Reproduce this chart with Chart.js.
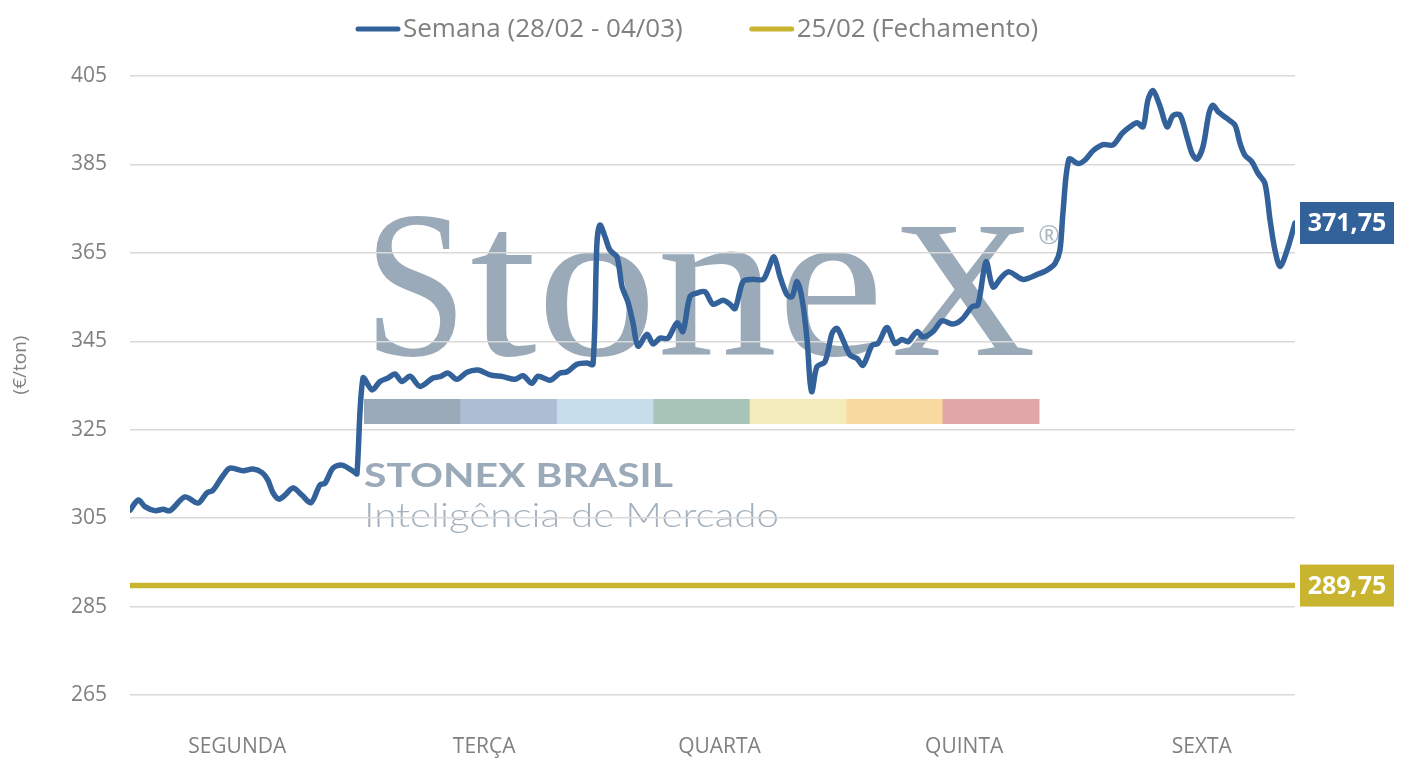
<!DOCTYPE html>
<html>
<head>
<meta charset="utf-8">
<title>Semana (28/02 - 04/03)</title>
<script src="https://cdn.jsdelivr.net/npm/chart.js@4.4.1/dist/chart.umd.min.js"></script>
<style>
  html, body { margin: 0; padding: 0; background: #ffffff; }
  #wrap { width: 1418px; height: 774px; position: relative; }
</style>
</head>
<body>
<div id="wrap"><canvas id="priceChart"></canvas></div>
<script>
// dados: tempo em dias (0 = abertura de segunda, 5 = fechamento de sexta)
const times = [0, 0.036, 0.064, 0.107, 0.142, 0.172, 0.236, 0.292, 0.330, 0.356,
  0.395, 0.429, 0.485, 0.528, 0.567, 0.592, 0.614, 0.639, 0.665, 0.700,
  0.738, 0.777, 0.815, 0.837, 0.871, 0.910, 0.966, 0.974, 1.000, 1.039,
  1.073, 1.107, 1.137, 1.167, 1.202, 1.245, 1.300, 1.330, 1.365, 1.403,
  1.446, 1.494, 1.545, 1.601, 1.652, 1.687, 1.725, 1.751, 1.803, 1.845,
  1.876, 1.918, 1.961, 1.987, 2.004, 2.017, 2.039, 2.060, 2.090, 2.112,
  2.137, 2.159, 2.180, 2.219, 2.245, 2.275, 2.309, 2.348, 2.373, 2.403,
  2.433, 2.468, 2.502, 2.545, 2.575, 2.597, 2.631, 2.670, 2.717, 2.738,
  2.764, 2.790, 2.820, 2.841, 2.863, 2.884, 2.906, 2.918, 2.927, 2.948,
  2.983, 3.013, 3.034, 3.060, 3.090, 3.120, 3.146, 3.185, 3.210, 3.249,
  3.283, 3.313, 3.339, 3.378, 3.403, 3.446, 3.485, 3.532, 3.571, 3.614,
  3.639, 3.674, 3.704, 3.742, 3.773, 3.833, 3.897, 3.936, 3.970, 3.991,
  4.004, 4.030, 4.069, 4.099, 4.133, 4.176, 4.219, 4.258, 4.292, 4.322,
  4.348, 4.369, 4.391, 4.421, 4.451, 4.476, 4.506, 4.536, 4.558, 4.579,
  4.605, 4.631, 4.648, 4.670, 4.708, 4.742, 4.764, 4.785, 4.815, 4.841,
  4.871, 4.893, 4.914, 4.936, 4.966, 5.000];

const prices = [306.8, 309.1, 307.6, 306.7, 307.0, 306.7, 309.8, 308.4, 310.7, 311.3,
  314.3, 316.3, 315.7, 316.1, 315.3, 313.6, 310.7, 309.3, 310.2, 311.8,
  310.2, 308.5, 312.5, 312.9, 316.3, 317.0, 315.3, 315.0, 336.7, 334.0,
  335.9, 336.7, 337.6, 335.9, 337.1, 334.8, 336.7, 337.0, 337.8, 336.4,
  338.0, 338.5, 337.4, 337.0, 336.4, 337.2, 335.5, 337.1, 336.2, 337.8,
  338.1, 339.8, 340.1, 339.8, 367.2, 371.3, 368.6, 365.6, 364.1, 357.3,
  353.9, 349.1, 343.9, 346.6, 344.4, 345.7, 345.7, 349.2, 347.2, 355.1,
  355.9, 356.2, 353.4, 354.3, 353.4, 352.4, 358.5, 359.0, 359.0, 361.1,
  364.1, 359.6, 355.5, 355.1, 358.5, 354.7, 345.3, 336.2, 333.6, 339.2,
  340.4, 346.8, 347.9, 345.3, 341.9, 341.1, 339.6, 344.1, 344.5, 348.1,
  344.5, 345.4, 344.9, 347.2, 346.0, 347.2, 349.6, 348.9, 350.0, 352.8,
  353.2, 363.0, 357.3, 359.6, 360.7, 359.0, 360.2, 361.1, 362.6, 365.6,
  374.0, 386.2, 385.2, 386.0, 388.1, 389.5, 389.4, 392.0, 393.5, 394.4,
  393.5, 399.6, 401.7, 398.1, 393.5, 396.0, 396.2, 391.3, 387.5, 386.2,
  389.0, 396.6, 398.4, 396.9, 395.4, 393.9, 389.8, 387.1, 385.6, 383.0,
  380.7, 372.4, 365.6, 361.9, 365.6, 371.75];

const closeRef = 289.75; // 25/02 (Fechamento)
const weekStart = 0;
const weekEnd = 5;

const dayNames = ["SEGUNDA", "TERÇA", "QUARTA", "QUINTA", "SEXTA"];
const dayTickPos = [0.46, 1.52, 2.53, 3.58, 4.60];

const yMin = 265;
const yMax = 405;
const yStep = 20;

const seriesLabels = ["Semana (28/02 - 04/03)", "25/02 (Fechamento)"];
const seriesColors = ["#33619A", "#C8B42E"];

const grey = "#808080";
const markColor = "#9BAAB9";
const stripeColors = ["#9BAAB9", "#ABBED4", "#C8DDEC", "#A8C4B6", "#F3ECBA", "#F8D9A0", "#E0A6A8"];

Chart.defaults.font.family = "'Open Sans', 'Noto Sans', sans-serif";
Chart.defaults.color = grey;

// escreve um texto esticado para ocupar a largura w (e altura sy)
function fitText(ctx, text, x, y, w, sy) {
  const m = ctx.measureText(text).width;
  ctx.save();
  ctx.translate(x, y);
  ctx.scale(w / m, sy || 1);
  ctx.fillText(text, 0, 0);
  ctx.restore();
}

// marca d'água StoneX atrás da grade
const watermark = {
  id: "watermark",
  beforeDraw(chart) {
    const ctx = chart.ctx;
    ctx.save();
    ctx.fillStyle = "#ffffff";
    ctx.fillRect(0, 0, chart.width, chart.height);

    ctx.fillStyle = markColor;
    ctx.textAlign = "left";
    ctx.textBaseline = "alphabetic";
    ctx.font = "210px 'Liberation Serif'";
    fitText(ctx, "S", 364, 355, 103);
    ctx.font = "230px 'Liberation Serif'";
    fitText(ctx, "tone", 470, 355, 414, 0.95);
    ctx.font = "196px 'Liberation Serif'";
    fitText(ctx, "X", 891, 355, 145);

    ctx.fillStyle = "#A9B7C4";
    ctx.font = "26px 'Open Sans'";
    ctx.textAlign = "center";
    ctx.textBaseline = "middle";
    ctx.fillText("®", 1049, 237);

    const sw = 675 / stripeColors.length;
    stripeColors.forEach((c, i) => {
      ctx.fillStyle = c;
      ctx.fillRect(364 + i * sw, 399, sw + 0.5, 25);
    });

    ctx.textAlign = "left";
    ctx.textBaseline = "alphabetic";
    ctx.fillStyle = markColor;
    ctx.font = "bold 32px Lato";
    fitText(ctx, "STONEX BRASIL", 364, 487, 309);
    ctx.fillStyle = "#A3B1BF";
    ctx.font = "300 33px Lato";
    fitText(ctx, "Inteligência de Mercado", 364, 527, 415);
    ctx.restore();
  }
};

// legenda, título do eixo e caixas com o último valor
const overlay = {
  id: "overlay",
  afterDraw(chart) {
    const ctx = chart.ctx;
    const yScale = chart.scales.y;
    const area = chart.chartArea;
    ctx.save();

    // legenda
    ctx.font = "26px 'Open Sans'";
    ctx.textBaseline = "middle";
    ctx.textAlign = "left";
    let x = 356;
    const ly = 29;
    chart.data.datasets.forEach((ds, i) => {
      ctx.strokeStyle = ds.borderColor;
      ctx.lineWidth = 5;
      ctx.lineCap = "round";
      ctx.beginPath();
      ctx.moveTo(x + 2, ly);
      ctx.lineTo(x + 42, ly);
      ctx.stroke();
      ctx.fillStyle = grey;
      ctx.fillText(ds.label, x + 47, ly + 1);
      x += 47 + ctx.measureText(ds.label).width + 67;
    });

    // título do eixo y
    ctx.save();
    ctx.translate(21, 365);
    ctx.rotate(-Math.PI / 2);
    ctx.font = "19px 'Open Sans'";
    ctx.textAlign = "center";
    ctx.fillStyle = grey;
    ctx.fillText("(€/ton)", 0, 0);
    ctx.restore();

    // caixas de valor final
    chart.data.datasets.forEach((ds) => {
      const last = ds.data[ds.data.length - 1].y;
      const cy = yScale.getPixelForValue(last);
      const bx = area.right + 5;
      ctx.fillStyle = ds.borderColor;
      ctx.fillRect(bx, cy - 21, 94, 42);
      ctx.fillStyle = "#ffffff";
      ctx.font = "bold 25px 'Open Sans'";
      ctx.textAlign = "center";
      ctx.textBaseline = "middle";
      ctx.fillText(last.toFixed(2).replace(".", ","), bx + 47, cy + 1);
    });
    ctx.restore();
  }
};

const ctx = document.getElementById("priceChart").getContext("2d");
const priceChart = new Chart(ctx, {
  type: "line",
  data: {
    datasets: [
      {
        label: seriesLabels[0],
        data: times.map((t, i) => ({ x: t, y: prices[i] })),
        borderColor: seriesColors[0],
        backgroundColor: seriesColors[0],
        borderWidth: 5.5,
        pointRadius: 0,
        tension: 0.3,
        borderCapStyle: "round",
        borderJoinStyle: "round",
      },
      {
        label: seriesLabels[1],
        data: [{ x: weekStart, y: closeRef }, { x: weekEnd, y: closeRef }],
        borderColor: seriesColors[1],
        backgroundColor: seriesColors[1],
        borderWidth: 5.5,
        pointRadius: 0,
      },
    ],
  },
  options: {
    responsive: true,
    maintainAspectRatio: false,
    animation: false,
    layout: { padding: { top: 76, right: 123, left: 0, bottom: 0 } },
    scales: {
      x: {
        type: "linear",
        min: weekStart,
        max: weekEnd,
        grid: { display: false },
        border: { display: false },
        afterBuildTicks(scale) {
          scale.ticks = dayTickPos.map((v) => ({ value: v }));
        },
        afterFit(scale) {
          scale.height = 79;
        },
        ticks: {
          autoSkip: false,
          maxRotation: 0,
          padding: 31,
          color: grey,
          font: { size: 21 },
          callback: (v, i) => dayNames[i],
        },
      },
      y: {
        min: yMin,
        max: yMax,
        grid: { color: "#D9D9D9", lineWidth: 1.5, drawTicks: false },
        border: { display: false },
        afterFit(scale) {
          scale.width = 130;
        },
        ticks: {
          stepSize: yStep,
          padding: 23,
          color: grey,
          font: { size: 21 },
        },
      },
    },
    plugins: {
      legend: { display: false },
      tooltip: { enabled: false },
    },
  },
  plugins: [watermark, overlay],
});
</script>
</body>
</html>
